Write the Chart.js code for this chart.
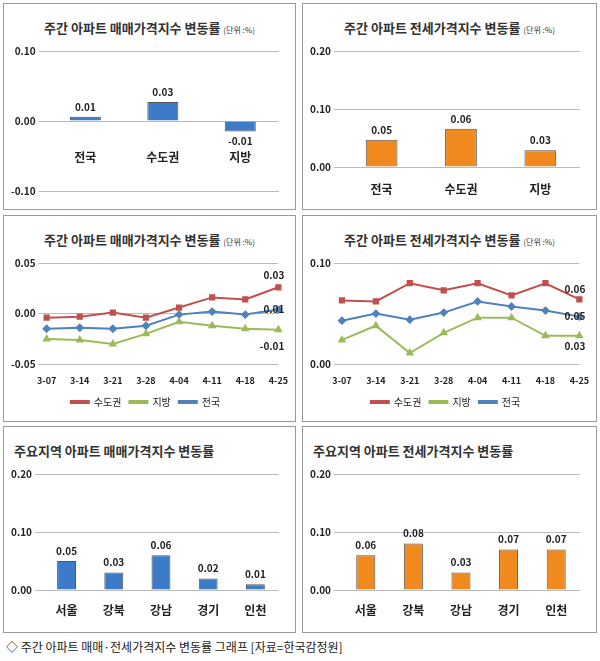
<!DOCTYPE html>
<html><head><meta charset="utf-8">
<script src="https://cdn.jsdelivr.net/npm/chart.js@4"></script>
<style>
body{margin:0;background:#fff;font-family:"Noto Sans CJK KR",sans-serif;}
.panel{position:absolute;border:1px solid #999;background:#fff;}
.ttl{position:absolute;top:14px;left:0;right:0;text-align:center;font-size:13px;font-weight:bold;color:#333;}
.ttl small{font-size:8px;font-weight:normal;}
.cv{position:absolute;left:4px;right:4px;top:38px;bottom:4px;}
#cap{position:absolute;left:6px;top:638px;font-size:12px;color:#222;}
</style></head><body>
<div class="panel" style="left:3px;top:3px;width:291px;height:205px"><div class="ttl">주간 아파트 매매가격지수 변동률 <small>(단위 :%)</small></div><div class="cv"><canvas id="c1"></canvas></div></div>
<div class="panel" style="left:302px;top:3px;width:293px;height:205px"><div class="ttl">주간 아파트 전세가격지수 변동률 <small>(단위 :%)</small></div><div class="cv"><canvas id="c2"></canvas></div></div>
<div class="panel" style="left:3px;top:215px;width:291px;height:205px"><div class="ttl">주간 아파트 매매가격지수 변동률 <small>(단위 :%)</small></div><div class="cv"><canvas id="c3"></canvas></div></div>
<div class="panel" style="left:302px;top:215px;width:293px;height:205px"><div class="ttl">주간 아파트 전세가격지수 변동률 <small>(단위 :%)</small></div><div class="cv"><canvas id="c4"></canvas></div></div>
<div class="panel" style="left:3px;top:426px;width:291px;height:205px"><div class="ttl" style="text-align:left;left:10px">주요지역 아파트 매매가격지수 변동률</div><div class="cv"><canvas id="c5"></canvas></div></div>
<div class="panel" style="left:302px;top:426px;width:293px;height:205px"><div class="ttl" style="text-align:left;left:10px">주요지역 아파트 전세가격지수 변동률</div><div class="cv"><canvas id="c6"></canvas></div></div>
<div id="cap">◇ 주간 아파트 매매·전세가격지수 변동률 그래프 [자료=한국감정원]</div>
<script>
const regions = ['전국', '수도권', '지방'];
const saleRegion = [0.01, 0.03, -0.01];
const saleRegionBars = [0.006, 0.027, -0.015];
const jeonseRegion = [0.05, 0.06, 0.03];
const jeonseRegionBars = [0.047, 0.066, 0.029];
const weeks = ['3-07', '3-14', '3-21', '3-28', '4-04', '4-11', '4-18', '4-25'];
const saleCapital = [-0.004, -0.003, 0.001, -0.004, 0.006, 0.016, 0.014, 0.026];
const saleLocal = [-0.025, -0.026, -0.030, -0.020, -0.008, -0.012, -0.015, -0.016];
const saleNation = [-0.015, -0.014, -0.015, -0.012, -0.001, 0.002, -0.001, 0.004];
const saleEndLabels = ['0.03', '-0.01', '0.01'];
const jeonseCapital = [0.063, 0.062, 0.080, 0.073, 0.080, 0.068, 0.080, 0.064];
const jeonseLocal = [0.024, 0.038, 0.011, 0.031, 0.046, 0.046, 0.028, 0.028];
const jeonseNation = [0.043, 0.050, 0.044, 0.051, 0.062, 0.057, 0.053, 0.047];
const jeonseEndLabels = ['0.06', '0.03', '0.05'];
const cities = ['서울', '강북', '강남', '경기', '인천'];
const saleCity = [0.05, 0.03, 0.06, 0.02, 0.01];
const jeonseCity = [0.06, 0.08, 0.03, 0.07, 0.07];

const blue = '#3b7bc8', orange = '#f0891e';
const red = '#c0504d', green = '#9bbb59', lblue = '#4f81bd';
const font = { family: 'Noto Sans CJK KR', weight: 'bold', size: 10 };

const barLabels = {
  id: 'barLabels',
  afterDatasetsDraw(chart, a, opts) {
    const { ctx, scales: { y } } = chart;
    const meta = chart.getDatasetMeta(0);
    ctx.save();
    ctx.fillStyle = '#222';
    ctx.textAlign = 'center';
    meta.data.forEach((bar, i) => {
      const v = opts.values[i];
      const top = Math.min(bar.y, bar.base);
      ctx.font = 'bold 10px "Noto Sans CJK KR"';
      ctx.textBaseline = v < 0 ? 'top' : 'bottom';
      ctx.fillText(v.toFixed(2), bar.x, v < 0 ? bar.y + 5 : top - 5);
      ctx.font = 'bold 12px "Noto Sans CJK KR"';
      ctx.textBaseline = 'top';
      ctx.fillText(chart.data.labels[i], bar.x, y.getPixelForValue(0) + opts.catOffset);
    });
    ctx.restore();
  }
};

function barChart(id, labels, data, values, color, min, max, catOffset, padBottom) {
  new Chart(document.getElementById(id), {
    type: 'bar',
    data: { labels, datasets: [{ data, backgroundColor: color, borderColor: '#555', borderWidth: 1, barPercentage: 0.5 }] },
    options: {
      responsive: true, maintainAspectRatio: false, animation: false,
      layout: { padding: { top: 6, right: 12, bottom: padBottom } },
      plugins: { legend: { display: false }, tooltip: { enabled: false }, barLabels: { values, catOffset } },
      scales: {
        x: { ticks: { display: false }, grid: { display: false }, border: { display: false } },
        y: { min, max, ticks: { stepSize: 0.1, callback: v => v.toFixed(2), color: '#222', font }, grid: { color: '#bbb' }, border: { display: false } }
      }
    },
    plugins: [barLabels]
  });
}

const endLabels = {
  id: 'endLabels',
  afterDatasetsDraw(chart, a, opts) {
    const { ctx } = chart;
    ctx.save();
    ctx.fillStyle = '#222';
    ctx.font = 'bold 10px "Noto Sans CJK KR"';
    ctx.textAlign = 'right';
    ctx.textBaseline = 'middle';
    chart.data.datasets.forEach((ds, i) => {
      const pts = chart.getDatasetMeta(i).data;
      const p = pts[pts.length - 1];
      ctx.fillText(opts.labels[i], p.x + 6, p.y + opts.offsets[i]);
    });
    ctx.restore();
  }
};

function lineChart(id, a, b, c, labels, offsets, min, max, step) {
  const ds = (label, data, color, style) => ({ label, data, borderColor: color, backgroundColor: color, pointStyle: style, pointRadius: 3, borderWidth: 2 });
  new Chart(document.getElementById(id), {
    type: 'line',
    data: { labels: weeks, datasets: [ds('수도권', a, red, 'rect'), ds('지방', b, green, 'triangle'), ds('전국', c, lblue, 'rectRot')] },
    options: {
      responsive: true, maintainAspectRatio: false, animation: false,
      layout: { padding: { right: 8 } },
      plugins: {
        legend: { position: 'bottom', labels: { boxWidth: 18, boxHeight: 2, color: '#222', font: { family: 'Noto Sans CJK KR', size: 10 }, padding: 8 } },
        tooltip: { enabled: false },
        endLabels: { labels, offsets }
      },
      scales: {
        x: { ticks: { color: '#222', font: { ...font, size: 9 } }, grid: { display: false }, border: { display: false } },
        y: { min, max, ticks: { stepSize: step, callback: v => v.toFixed(2), color: '#222', font }, grid: { color: '#bbb' }, border: { display: false } }
      }
    },
    plugins: [endLabels]
  });
}

barChart('c1', regions, saleRegionBars, saleRegion, blue, -0.1, 0.1, 30, 6);
barChart('c2', regions, jeonseRegionBars, jeonseRegion, orange, 0, 0.2, 16, 30);
lineChart('c3', saleCapital, saleLocal, saleNation, saleEndLabels, [-12, 16, 0], -0.05, 0.05, 0.05);
lineChart('c4', jeonseCapital, jeonseLocal, jeonseNation, jeonseEndLabels, [-10, 10, 0], 0, 0.1, 0.1);
barChart('c5', cities, saleCity, saleCity, blue, 0, 0.2, 14, 30);
barChart('c6', cities, jeonseCity, jeonseCity, orange, 0, 0.2, 14, 30);
</script>
</body></html>
